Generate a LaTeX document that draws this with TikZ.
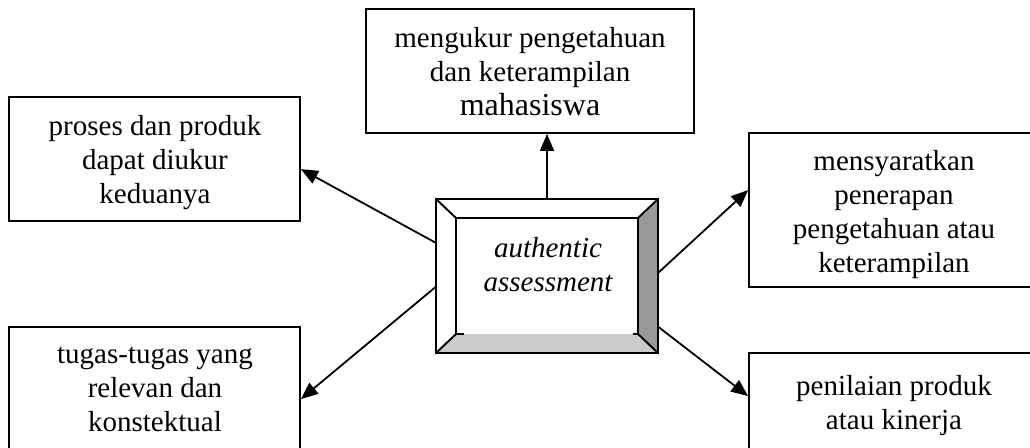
\documentclass[tikz,border=0pt]{standalone}
\usepackage{fontspec}
\setmainfont{Liberation Serif}
\usetikzlibrary{arrows.meta,calc}
\newcommand{\fs}{\rule{0pt}{25pt}}
\tikzset{
  box/.style={draw, line width=1.8pt, fill=white, inner sep=0pt},
  txt/.style={align=center, anchor=north, inner sep=0pt, font={\fontsize{29}{34}\selectfont}},
  arr/.style={line width=1.8pt, -{Triangle[length=17pt,width=14pt]}},
  bev/.style={line width=1.9pt, line join=miter},
}
\begin{document}
\begin{tikzpicture}[x=1pt,y=-1pt]
\useasboundingbox (0,0) rectangle (1030,447);
\clip (0,0) rectangle (1030,447);
\fill[white] (0,0) rectangle (1030,447);
% boxes
\node[box, minimum width=291pt, minimum height=124pt] (b1) at (154.5,159) {};
\node[box, minimum width=291pt, minimum height=140pt] (b2) at (154.5,397) {};
\node[box, minimum width=328pt, minimum height=124pt] (b3) at (530,71) {};
\node[box, minimum width=291pt, minimum height=154pt] (b4) at (894.5,210) {};
\node[box, minimum width=291pt, minimum height=140pt] (b5) at (894.5,423) {};
% texts
\node[txt] (t1) at (155,110) {\fs proses dan produk\\dapat diukur\\keduanya};
\node[txt] (t2) at (155,338) {\fs tugas-tugas yang\\relevan dan\\konstektual};
\node[txt] (t3) at (530,22) {\fs mengukur pengetahuan\\dan keterampilan\\{\fontsize{32}{35}\selectfont mahasiswa}};
\node[txt] (t4) at (894,145) {\fs mensyaratkan\\penerapan\\pengetahuan atau\\keterampilan};
\node[txt] (t5) at (894,370) {\fs penilaian produk\\atau kinerja};
% central bevel node
\node[minimum width=222pt, minimum height=154pt, inner sep=0pt] (c) at (547,276) {};
\coordinate (i1) at ($(c.north west)+(20,19)$);
\coordinate (i2) at ($(c.north east)+(-20,19)$);
\coordinate (i3) at ($(c.south east)+(-20,-19)$);
\coordinate (i4) at ($(c.south west)+(20,-19)$);
\fill[white] (c.north west) rectangle (c.south east);
\fill[black!40] (c.north east) -- (c.south east) -- (i3) -- (i2) -- cycle;
\fill[black!20] (c.south west) -- (c.south east) -- (i3) -- (i4) -- cycle;
\draw[bev] (c.north west) rectangle (c.south east);
\draw[bev] (c.north west) -- (i1) (c.north east) -- (i2) (c.south east) -- (i3) (c.south west) -- (i4);
\draw[bev] (i4) -- (i1) -- (i2) -- (i3);
\draw[bev] (i4) -- ++(8,0) (i3) -- ++(-5,0);
\node[txt, font={\fontsize{29}{34}\selectfont\itshape}] (ct) at (548,232) {\fs authentic\\assessment};
% connectors
\draw[arr] (c.north) -- (c.north |- b3.south);
\draw[arr] ($(c.north west)+(0,44)$) -- ($(b1.north east)+(0,73)$);
\draw[arr] ($(c.north west)+(0,88)$) -- ($(b2.north east)+(0,73)$);
\draw[arr] ($(c.north east)+(0,74)$) -- ($(b4.north west)+(0,58)$);
\draw[arr] ($(c.north east)+(0,128)$) -- ($(b5.north west)+(0,44)$);
\end{tikzpicture}
\end{document}
